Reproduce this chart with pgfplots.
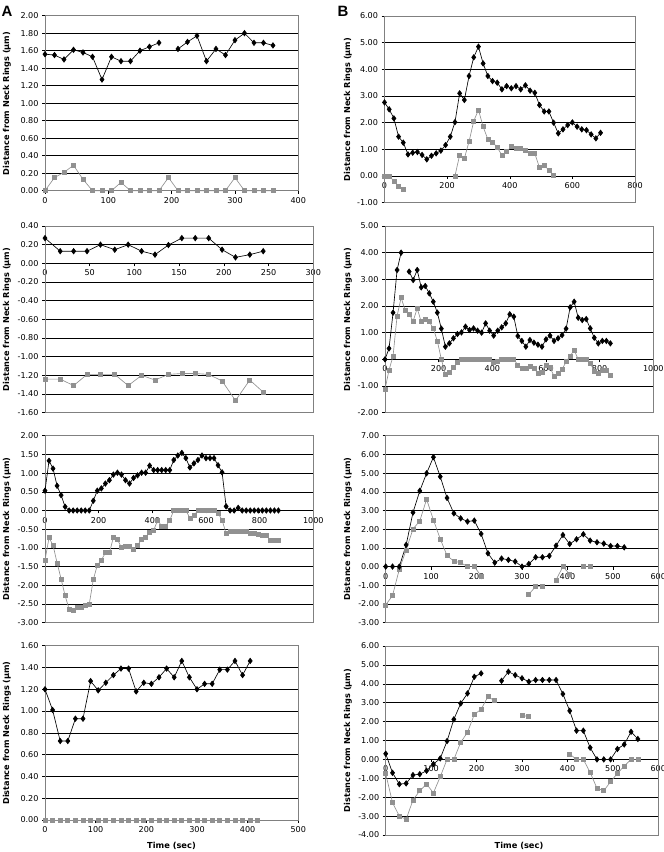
\documentclass[border=0pt]{standalone}
\usepackage{fontspec}
\setmainfont{DejaVu Sans}
\newfontfamily\headfont{Liberation Sans}
\usepackage{pgfplots}
\pgfplotsset{compat=1.18}

\definecolor{sergray}{RGB}{145,145,145}
\definecolor{framegray}{RGB}{128,128,128}

\pgfplotsset{
  panel/.style={
    scale only axis,
    anchor=south west,
    axis x line=middle,
    axis y line=left,
    axis line style={-},
    x axis line style={black, line width=0.6bp},
    y axis line style={framegray, line width=0.6bp},
    hide obscured x ticks=false,
    hide obscured y ticks=false,
    ymajorgrids,
    grid style={black, line width=0.55bp},
    tick align=outside,
    major tick length=3bp,
    tick style={black, line width=0.5bp},
    ticklabel style={font=\fontsize{8.1}{9}\selectfont},
    /pgf/number format/assume math mode=true,
    yticklabel style={/pgf/number format/.cd, fixed, fixed zerofill, precision=2},
    xticklabel style={/pgf/number format/.cd, fixed, precision=0, 1000 sep={}},
    clip=false,
    unbounded coords=jump,
    enlargelimits=false,
  },
  blk/.style={black, line width=0.65bp, mark=diamond*, mark size=2.7bp,
    mark options={solid, fill=black}},
  gry/.style={sergray, line width=0.65bp, mark=square*, mark size=2bp,
    mark options={solid, fill=sergray, draw=sergray}},
}
\newcommand{\frameit}{\draw[framegray, line width=0.6bp] (rel axis cs:0,0) rectangle (rel axis cs:1,1);}

\begin{document}
\begin{tikzpicture}[x=1bp,y=1bp]
\useasboundingbox (0,0) rectangle (664,852);

% panel labels and axis titles
\node[font=\headfont\bfseries\fontsize{15}{15}\selectfont] at (7,841) {A};
\node[font=\headfont\bfseries\fontsize{15}{15}\selectfont] at (343,841) {B};
\foreach \xx/\yy in {7/748.5, 348/742.5, 7/532.5, 348/532.5, 7/323, 348/323, 7/119, 348/111.5}
  \node[rotate=90, font=\bfseries\fontsize{8.2}{9}\selectfont] at (\xx,\yy) {Distance from Neck Rings (µm)};
\node[font=\bfseries\fontsize{8.3}{9}\selectfont] at (171.5,6) {Time (sec)};
\node[font=\bfseries\fontsize{8.3}{9}\selectfont] at (519,6) {Time (sec)};

% ---- A1
\begin{axis}[panel, at={(45bp,661.3bp)}, width=253.3bp, height=175bp,
  xmin=0, xmax=400, xtick={0,100,200,300,400},
  ymin=0, ymax=2, ytick={0,0.2,0.4,0.6,0.8,1,1.2,1.4,1.6,1.8,2}]
\frameit
\addplot[gry] coordinates {(0,0)(15,0.15)(30,0.21)(45,0.29)(60,0.13)(75,0)(90,0)(105,0)(120,0.095)(135,0)(150,0)(165,0)(180,0)(195,0.15)(210,0)(225,0)(240,0)(255,0)(270,0)(285,0)(300,0.15)(315,0)(330,0)(345,0)(360,0)};
\addplot[blk] coordinates {(0,1.56)(15,1.55)(30,1.50)(45,1.61)(60,1.58)(75,1.53)(90,1.27)(105,1.53)(120,1.48)(135,1.48)(150,1.60)(165,1.645)(180,1.69)(195,nan)(210,1.62)(225,1.70)(240,1.77)(255,1.48)(270,1.62)(285,1.55)(300,1.72)(315,1.80)(330,1.69)(345,1.69)(360,1.66)};
\end{axis}

% ---- B1
\begin{axis}[panel, at={(384.5bp,649.3bp)}, width=250.5bp, height=186.7bp,
  xmin=0, xmax=800, xtick={0,200,400,600,800},
  ymin=-1, ymax=6, ytick={-1,0,1,2,3,4,5,6}]
\frameit
\addplot[gry] coordinates {(0,0)(15,0)(30,-0.19)(45,-0.375)(60,-0.50)(75,nan)(225,0)(240,0.79)(255,0.66)(270,1.29)(285,2.06)(300,2.48)(315,1.85)(330,1.375)(345,1.275)(360,1.075)(375,0.775)(390,0.91)(405,1.10)(420,1.04)(435,1.04)(450,0.975)(465,0.85)(480,0.85)(495,0.31)(510,0.39)(525,0.225)(540,0.01)};
\addplot[blk] coordinates {(0,2.76)(15,2.50)(30,2.16)(45,1.475)(60,1.25)(75,0.81)(90,0.875)(105,0.90)(120,0.79)(135,0.625)(150,0.76)(165,0.85)(180,0.95)(195,1.16)(210,1.475)(225,2.02)(240,3.10)(255,2.85)(270,3.75)(285,4.45)(300,4.85)(315,4.22)(330,3.75)(345,3.56)(360,3.50)(375,3.25)(390,3.37)(405,3.29)(420,3.37)(435,3.25)(450,3.40)(465,3.20)(480,3.12)(495,2.66)(510,2.42)(525,2.42)(540,2.00)(555,1.60)(570,1.75)(585,1.91)(600,2.01)(615,1.85)(630,1.75)(645,1.72)(660,1.56)(675,1.41)(690,1.62)};
\end{axis}

% ---- A2
\begin{axis}[panel, at={(45bp,439.3bp)}, width=268.3bp, height=186.7bp,
  xmin=0, xmax=300, xtick={0,50,100,150,200,250,300},
  ymin=-1.6, ymax=0.4, ytick={-1.6,-1.4,-1.2,-1,-0.8,-0.6,-0.4,-0.2,0,0.2,0.4}]
\frameit
\addplot[gry] coordinates {(0,-1.24)(17,-1.24)(32,-1.31)(47,-1.19)(62,-1.19)(78,-1.19)(93,-1.31)(108,-1.20)(123,-1.25)(138,-1.19)(153,-1.18)(168,-1.18)(183,-1.19)(198,-1.26)(213,-1.47)(229,-1.25)(244,-1.38)};
\addplot[blk] coordinates {(0,0.27)(17,0.13)(32,0.13)(47,0.13)(62,0.20)(78,0.146)(93,0.20)(108,0.13)(123,0.093)(138,0.196)(153,0.27)(168,0.27)(183,0.27)(198,0.146)(213,0.064)(229,0.093)(244,0.13)};
\end{axis}

% ---- B2
\begin{axis}[panel, at={(385bp,439.3bp)}, width=268.3bp, height=186.7bp,
  xmin=0, xmax=1000, xtick={0,200,400,600,800,1000},
  ymin=-2, ymax=5, ytick={-2,-1,0,1,2,3,4,5}]
\frameit
\addplot[gry] coordinates {(0,-1.125)(15,-0.40)(30,0.125)(45,1.625)(60,2.31)(75,1.85)(90,1.69)(105,1.44)(120,1.91)(135,1.41)(150,1.50)(165,1.41)(180,1.16)(195,0.69)(210,0)(225,-0.56)(240,-0.50)(255,-0.31)(270,-0.125)(285,0)(300,0)(315,0)(330,0)(345,0)(360,0)(375,0)(390,0)(405,-0.125)(420,-0.09)(435,0)(450,0)(465,0)(480,0)(495,-0.21)(510,-0.34)(525,-0.34)(540,-0.25)(555,-0.34)(570,-0.525)(585,-0.50)(600,-0.21)(615,-0.31)(630,-0.625)(645,-0.525)(660,-0.375)(675,-0.09)(690,0.125)(705,0.35)(720,0)(735,0)(750,0)(765,-0.15)(780,-0.44)(795,-0.525)(810,-0.40)(825,-0.40)(840,-0.59)};
\addplot[blk] coordinates {(0,0)(15,0.41)(30,1.75)(45,3.35)(60,4.00)(75,nan)(90,3.29)(105,2.975)(120,3.35)(135,2.70)(150,2.75)(165,2.475)(180,2.16)(195,1.75)(210,1.15)(225,0.475)(240,0.60)(255,0.79)(270,0.95)(285,1.01)(300,1.225)(315,1.10)(330,1.16)(345,1.075)(360,1.00)(375,1.35)(390,1.075)(405,0.89)(420,1.075)(435,1.20)(450,1.35)(465,1.69)(480,1.60)(495,0.875)(510,0.69)(525,0.475)(540,0.725)(555,0.625)(570,0.55)(585,0.475)(600,0.75)(615,0.89)(630,0.69)(645,0.79)(660,0.91)(675,1.15)(690,1.95)(705,2.16)(720,1.56)(735,1.475)(750,1.51)(765,1.16)(780,0.81)(795,0.60)(810,0.69)(825,0.69)(840,0.60)};
\end{axis}

% ---- A3
\begin{axis}[panel, at={(45bp,229.3bp)}, width=268.3bp, height=187bp,
  xmin=0, xmax=1000, xtick={0,200,400,600,800,1000},
  ymin=-3, ymax=2, ytick={-3,-2.5,-2,-1.5,-1,-0.5,0,0.5,1,1.5,2}]
\frameit
\addplot[gry] coordinates {(0,-1.33)(15,-0.73)(30,-0.93)(45,-1.40)(60,-1.83)(75,-2.28)(90,-2.64)(105,-2.68)(120,-2.60)(135,-2.58)(150,-2.54)(165,-2.50)(180,-1.85)(195,-1.46)(210,-1.33)(225,-1.13)(240,-1.13)(255,-0.72)(270,-0.78)(285,-0.99)(300,-0.97)(315,-0.97)(330,-1.04)(345,-0.92)(360,-0.78)(375,-0.72)(390,-0.59)(405,-0.53)(420,-0.26)(435,-0.42)(450,-0.42)(465,-0.26)(480,0)(495,0)(510,0)(525,0)(540,-0.20)(555,-0.13)(570,0)(585,0)(600,0)(615,0)(630,0)(645,-0.08)(660,-0.25)(675,-0.62)(690,-0.55)(705,-0.55)(720,-0.55)(735,-0.55)(750,-0.55)(765,-0.60)(780,-0.62)(795,-0.65)(810,-0.67)(825,-0.67)(840,-0.79)(855,-0.81)(870,-0.79)};
\addplot[blk] coordinates {(0,0.53)(15,1.33)(30,1.12)(45,0.66)(60,0.41)(75,0.10)(90,0)(105,0)(120,0)(135,0)(150,0)(165,0)(180,0.26)(195,0.53)(210,0.59)(225,0.72)(240,0.81)(255,0.96)(270,1.01)(285,0.96)(300,0.81)(315,0.72)(330,0.87)(345,0.94)(360,1.01)(375,1.01)(390,1.20)(405,1.08)(420,1.08)(435,1.08)(450,1.08)(465,1.08)(480,1.35)(495,1.47)(510,1.54)(525,1.40)(540,1.15)(555,1.26)(570,1.35)(585,1.47)(600,1.40)(615,1.40)(630,1.40)(645,1.21)(660,1.02)(675,0.11)(690,0)(705,0)(720,0.07)(735,0)(750,0)(765,0)(780,0)(795,0)(810,0)(825,0)(840,0)(855,0)(870,0)};
\end{axis}

% ---- B3
\begin{axis}[panel, at={(385.7bp,229.3bp)}, width=272.6bp, height=187bp,
  xmin=0, xmax=600, xtick={0,100,200,300,400,500,600},
  ymin=-3, ymax=7, ytick={-3,-2,-1,0,1,2,3,4,5,6,7}]
\frameit
\addplot[gry] coordinates {(0,-2.05)(15,-1.55)(30,-0.14)(45,0.89)(60,2.01)(75,2.44)(90,3.60)(105,2.50)(120,1.48)(135,0.59)(150,0.29)(165,0.21)(180,0)(195,0)(210,-0.5)(225,nan)(315,-1.48)(330,-1.07)(345,-1.07)(360,nan)(375,-0.71)(390,0)(405,-0.41)(420,nan)(435,0)(450,0)};
\addplot[blk] coordinates {(0,0)(15,0)(30,0)(45,1.16)(60,2.89)(75,4.05)(90,4.99)(105,5.85)(120,4.81)(135,3.67)(150,2.85)(165,2.58)(180,2.41)(195,2.46)(210,1.75)(225,0.71)(240,0.21)(255,0.43)(270,0.36)(285,0.27)(300,0)(315,0.14)(330,0.50)(345,0.50)(360,0.57)(375,1.12)(390,1.69)(405,1.21)(420,1.46)(435,1.73)(450,1.39)(465,1.30)(480,1.23)(495,1.10)(510,1.10)(525,1.03)};
\end{axis}

% ---- A4
\begin{axis}[panel, at={(45bp,32bp)}, width=253.3bp, height=174.3bp,
  xmin=0, xmax=500, xtick={0,100,200,300,400,500},
  ymin=0, ymax=1.6, ytick={0,0.2,0.4,0.6,0.8,1,1.2,1.4,1.6}]
\frameit
\addplot[gry] coordinates {(0,0)(15,0)(30,0)(45,0)(60,0)(75,0)(90,0)(105,0)(120,0)(135,0)(150,0)(165,0)(180,0)(195,0)(210,0)(225,0)(240,0)(255,0)(270,0)(285,0)(300,0)(315,0)(330,0)(345,0)(360,0)(375,0)(390,0)(405,0)(420,0)};
\addplot[blk] coordinates {(0,1.20)(15,1.01)(30,0.725)(45,0.725)(60,0.93)(75,0.93)(90,1.275)(105,1.19)(120,1.26)(135,1.33)(150,1.39)(165,1.39)(180,1.18)(195,1.26)(210,1.25)(225,1.31)(240,1.39)(255,1.31)(270,1.46)(285,1.31)(300,1.20)(315,1.25)(330,1.25)(345,1.38)(360,1.38)(375,1.46)(390,1.33)(405,1.46)};
\end{axis}

% ---- B4
\begin{axis}[panel, at={(385.7bp,17bp)}, width=272.6bp, height=189bp,
  xmin=0, xmax=600, xtick={0,100,200,300,400,500,600},
  ymin=-4, ymax=6, ytick={-4,-3,-2,-1,0,1,2,3,4,5,6}]
\frameit
\addplot[gry] coordinates {(0,-0.75)(15,-2.29)(30,-3.0)(45,-3.17)(60,-2.15)(75,-1.66)(90,-1.31)(105,-1.77)(120,-0.92)(135,0)(150,0)(165,0.90)(180,1.43)(195,2.38)(210,2.65)(225,3.32)(240,3.10)(255,nan)(300,2.31)(315,2.28)(330,nan)(405,0.28)(420,0)(435,0)(450,-0.69)(465,-1.53)(480,-1.66)(495,-1.18)(510,-0.74)(525,-0.35)(540,0)(555,0)};
\addplot[blk] coordinates {(0,0.30)(15,-0.71)(30,-1.31)(45,-1.27)(60,-0.83)(75,-0.78)(90,-0.60)(105,-0.25)(120,0.05)(135,0.97)(150,2.12)(165,2.96)(180,3.49)(195,4.37)(210,4.55)(225,nan)(255,4.16)(270,4.64)(285,4.46)(300,4.29)(315,4.11)(330,4.20)(345,4.20)(360,4.20)(375,4.20)(390,3.46)(405,2.57)(420,1.52)(435,1.52)(450,0.62)(465,0)(480,0)(495,0)(510,0.55)(525,0.79)(540,1.46)(555,1.08)};
\end{axis}
\end{tikzpicture}
\end{document}
